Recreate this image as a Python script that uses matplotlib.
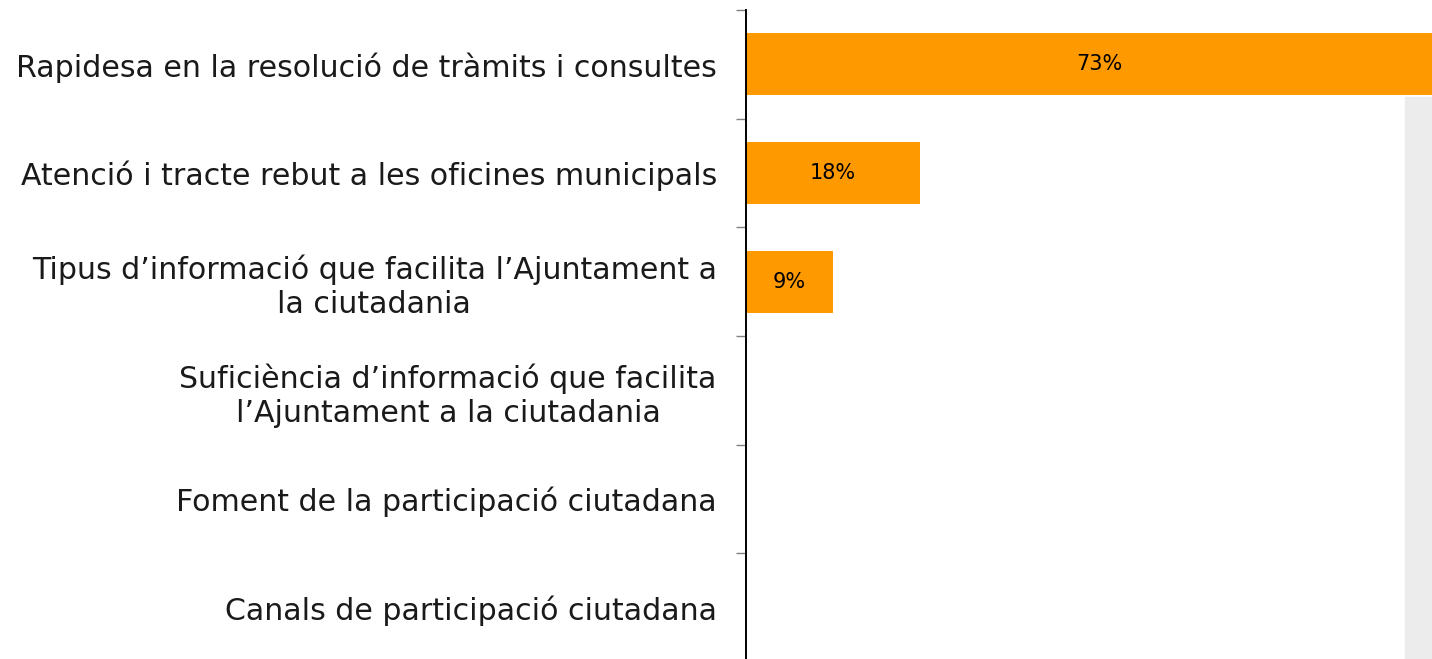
import matplotlib.pyplot as plt
from matplotlib.patches import Rectangle

categories = [
    "Rapidesa en la resolució de tràmits i consultes",
    "Atenció i tracte rebut a les oficines municipals",
    "Tipus d’informació que facilita l’Ajuntament a\nla ciutadania",
    "Suficiència d’informació que facilita\nl’Ajuntament a la ciutadania",
    "Foment de la participació ciutadana",
    "Canals de participació ciutadana",
]
values = [73, 18, 9, 0, 0, 0]
bar_color = "#ff9900"

plt.rcParams["font.family"] = ["DejaVu Sans"]

W, H = 1432, 659
fig = plt.figure(figsize=(W / 100, H / 100), dpi=100)

# grey strip of the background at right edge
fig.add_artist(Rectangle((1405 / W, 0), 27 / W, 1 - 97 / H,
                         transform=fig.transFigure, color="#ececec", zorder=0))

ax = fig.add_axes([746 / W, -3 / H, 706 / W, 652 / H])
ax.patch.set_alpha(0)

ypos = list(range(len(categories)))
bars = ax.barh(ypos, values, height=0.57, color=bar_color)
for b, v in zip(bars, values):
    if v > 0:
        ax.text(v / 2, b.get_y() + b.get_height() / 2, f"{v}%",
                ha="center", va="center", fontsize=15, color="black")

ax.set_xlim(0, 73)
ax.set_ylim(len(categories) - 0.5, -0.5)

ax.set_yticks(ypos)
ax.set_yticklabels(categories, fontsize=21.6, color="#1a1a1a",
                   multialignment="center", linespacing=1.2)
ax.tick_params(axis="y", which="major", length=0, pad=21)
ax.set_yticks([i - 0.5 for i in range(len(categories) + 1)], minor=True)
ax.tick_params(axis="y", which="minor", length=7.5, width=1, color="#808080")
ax.set_xticks([])

for s in ["top", "right", "bottom"]:
    ax.spines[s].set_visible(False)
ax.spines["left"].set_linewidth(1.4)
ax.spines["left"].set_color("black")

fig.savefig("out.png", dpi=100)
